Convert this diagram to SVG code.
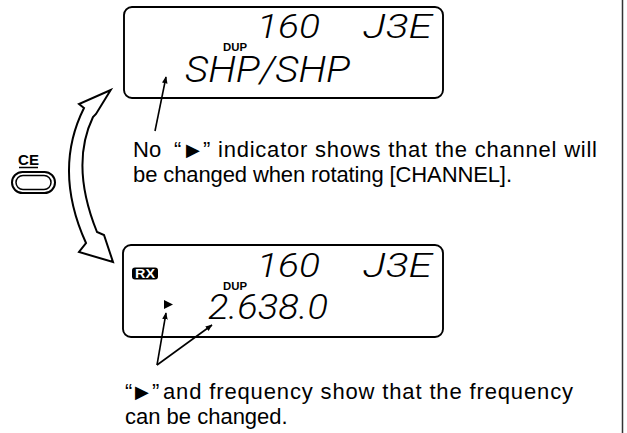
<svg xmlns="http://www.w3.org/2000/svg" width="627" height="433" viewBox="0 0 627 433">
<style>
.lcd{fill:none;stroke:#000;stroke-width:1.9}
.seg{font-family:Roboto,"DejaVu Sans",sans-serif;font-weight:300;font-style:italic;fill:#000}
.dup{font-family:"Liberation Sans",Arial,sans-serif;font-weight:bold;font-size:10px;fill:#000}
.cap{font-family:"Liberation Sans",Arial,sans-serif;font-size:22px;fill:#000}
.tri{font-family:"DejaVu Sans",sans-serif;font-size:18px}
.lead{stroke:#000;stroke-width:1.6;fill:none}
</style>
<defs>
<marker id="ah" viewBox="0 0 10 10" refX="9" refY="5" markerWidth="7" markerHeight="7" markerUnits="userSpaceOnUse" orient="auto">
<path d="M0,1 L10,5 L0,9 Z" fill="#000"/>
</marker>
</defs>
<rect width="627" height="433" fill="#fff"/>
<line x1="622.5" y1="0" x2="622.5" y2="433" stroke="#333" stroke-width="1.5"/>

<g id="lcd-top">
<rect class="lcd" x="124" y="7" width="319" height="91" rx="8"/>
<text class="seg" x="257" y="38" font-size="34" textLength="63" lengthAdjust="spacingAndGlyphs">160</text>
<text class="seg" x="363" y="38" font-size="34" textLength="69" lengthAdjust="spacingAndGlyphs">J3E</text>
<text class="dup" x="223" y="51" textLength="24" lengthAdjust="spacingAndGlyphs">DUP</text>
<text class="seg" x="185" y="82" font-size="36" textLength="165" lengthAdjust="spacingAndGlyphs">SHP/SHP</text>
</g>

<g id="lcd-bottom">
<rect class="lcd" x="123" y="245" width="320" height="92" rx="8"/>
<text class="seg" x="257" y="277" font-size="34" textLength="63" lengthAdjust="spacingAndGlyphs">160</text>
<text class="seg" x="363" y="277" font-size="34" textLength="69" lengthAdjust="spacingAndGlyphs">J3E</text>
<rect x="132" y="267.5" width="26" height="12" rx="3" fill="#000"/>
<text x="145" y="278" text-anchor="middle" font-family="Liberation Sans,Arial,sans-serif" font-weight="bold" font-size="12" textLength="20" lengthAdjust="spacingAndGlyphs" fill="#fff">RX</text>
<text class="dup" x="223" y="290" textLength="24" lengthAdjust="spacingAndGlyphs">DUP</text>
<polygon points="164,300 173,304.5 164,309" fill="#000"/>
<text class="seg" x="208" y="319" font-size="35" textLength="120" lengthAdjust="spacingAndGlyphs">2.638.0</text>
</g>

<g id="ce-button">
<text x="28.5" y="165" text-anchor="middle" font-family="Liberation Sans,Arial,sans-serif" font-weight="bold" font-size="15" fill="#000">CE</text>
<line x1="19" y1="167.5" x2="38" y2="167.5" stroke="#000" stroke-width="1.5"/>
<rect x="12" y="172" width="43" height="21" rx="10.5" fill="none" stroke="#000" stroke-width="2"/>
<rect x="16" y="175.5" width="35" height="14" rx="7" fill="none" stroke="#000" stroke-width="1.5"/>
</g>

<g id="cycle-arrow">
<path d="M110.7,90 L96,114 L93,117 Q70,165 97,232 L104,235 L113,262 L79,252 L86,243 Q53,170 84,108 L79,104 Z" fill="#fff" stroke="#000" stroke-width="2" stroke-linejoin="miter"/>
</g>

<g id="caption-top">
<text class="cap" y="157"><tspan x="133">No</tspan><tspan x="174">“</tspan><tspan class="tri" x="186" dy="-1">▶</tspan><tspan x="203" dy="1">”</tspan><tspan x="218" textLength="379" lengthAdjust="spacing">indicator shows that the channel will</tspan></text>
<text class="cap" x="133" y="182" textLength="379" lengthAdjust="spacing">be changed when rotating [CHANNEL].</text>
</g>

<g id="caption-bottom">
<text class="cap" y="399"><tspan x="125">“</tspan><tspan class="tri" x="135" dy="-1">▶</tspan><tspan x="152" dy="1">”</tspan><tspan x="163" textLength="410" lengthAdjust="spacing">and frequency show that the frequency</tspan></text>
<text class="cap" x="125" y="424">can be changed.</text>
</g>

<g id="connectors">
<line class="lead" x1="155" y1="131" x2="166" y2="77" marker-end="url(#ah)"/>
<line class="lead" x1="157" y1="365" x2="166" y2="313" marker-end="url(#ah)"/>
<line class="lead" x1="157" y1="365" x2="212" y2="325" marker-end="url(#ah)"/>
</g>
</svg>
